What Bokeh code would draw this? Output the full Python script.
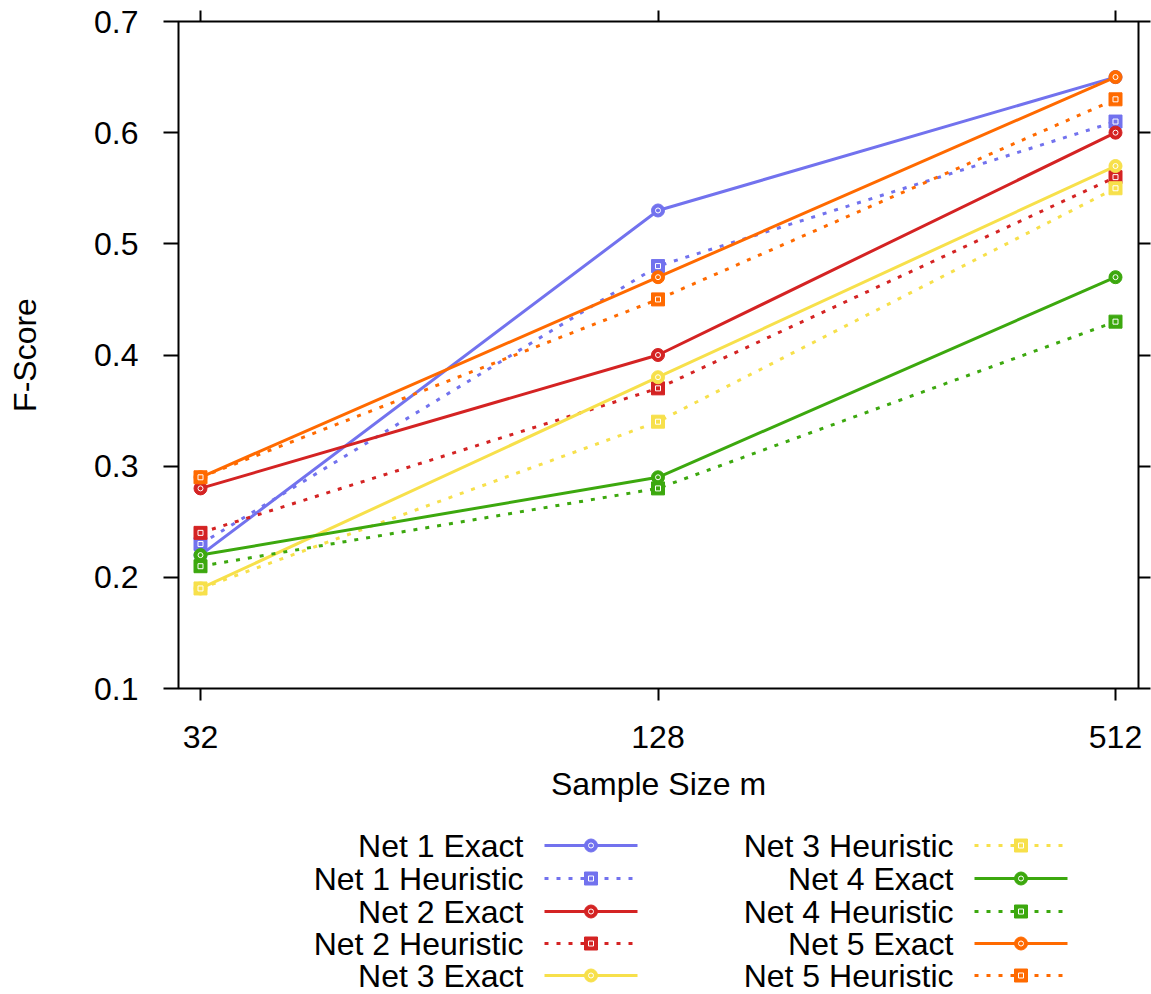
import numpy as np
from bokeh.plotting import figure
from bokeh.layouts import column
from bokeh.models import Range1d, FixedTicker, LinearAxis, ColumnDataSource
from bokeh.core.properties import value
from bokeh.embed import file_html
from bokeh.resources import INLINE

# ---------------- data ----------------
sample_sizes = [32, 128, 512]
series_names = ["Net 1 Exact", "Net 1 Heuristic", "Net 2 Exact", "Net 2 Heuristic",
                "Net 3 Exact", "Net 3 Heuristic", "Net 4 Exact", "Net 4 Heuristic",
                "Net 5 Exact", "Net 5 Heuristic"]
net1_exact = [0.22, 0.53, 0.65]
net1_heur = [0.23, 0.48, 0.61]
net2_exact = [0.28, 0.40, 0.60]
net2_heur = [0.24, 0.37, 0.56]
net3_exact = [0.19, 0.38, 0.57]
net3_heur = [0.19, 0.34, 0.55]
net4_exact = [0.22, 0.29, 0.47]
net4_heur = [0.21, 0.28, 0.43]
net5_exact = [0.29, 0.47, 0.65]
net5_heur = [0.29, 0.45, 0.63]
series_values = [net1_exact, net1_heur, net2_exact, net2_heur, net3_exact,
                 net3_heur, net4_exact, net4_heur, net5_exact, net5_heur]
y_ticks = [0.1, 0.2, 0.3, 0.4, 0.5, 0.6, 0.7]

net_colors = ["#7272ee", "#d42323", "#f7e04b", "#3ca80e", "#ff6a00"]
FONT = "Liberation Sans"
FS = "32px"

x_pos = np.log2(sample_sizes)

W, TOTAL_H = 1151, 994
L, R, T, B = 178, 13, 21, 128
H1 = T + 667 + B
H2 = TOTAL_H - H1
frame_w = W - L - R
unit = (1115 - 200) / (x_pos[-1] - x_pos[0])
x_lo = x_pos[0] - (200 - L) / unit
x_hi = x_pos[-1] + (L + frame_w - 1115) / unit

p = figure(width=W, height=H1, output_backend="svg", toolbar_location=None,
           x_range=Range1d(x_lo, x_hi), y_range=Range1d(0.1, 0.7),
           min_border_left=L, min_border_right=R, min_border_top=T, min_border_bottom=B,
           x_axis_location="below", y_axis_location="left")
p.xgrid.visible = False
p.ygrid.visible = False
p.outline_line_color = "black"
p.outline_line_width = 2
p.background_fill_color = "white"
p.border_fill_color = "white"

xt = FixedTicker(ticks=list(x_pos))
yt = FixedTicker(ticks=y_ticks)
xlabels = {float(v): str(s) for v, s in zip(x_pos, sample_sizes)}
ylabels = {t: f"{t:.1f}" for t in y_ticks}

def style_axis(ax, tick_out):
    ax.axis_line_color = None
    ax.major_tick_line_color = "black"
    ax.major_tick_line_width = 2
    ax.major_tick_out = tick_out
    ax.major_tick_in = 0
    ax.minor_tick_line_color = None
    ax.major_label_text_font = FONT
    ax.major_label_text_font_size = FS
    ax.major_label_text_color = "black"
    ax.axis_label_text_font = FONT
    ax.axis_label_text_font_size = FS
    ax.axis_label_text_font_style = "normal"
    ax.axis_label_text_color = "black"

xa = p.xaxis[0]
xa.ticker = xt
xa.major_label_overrides = xlabels
xa.axis_label = "Sample Size m"
style_axis(xa, 12)
xa.major_label_standoff = 25
xa.axis_label_standoff = 15

ya = p.yaxis[0]
ya.ticker = yt
ya.major_label_overrides = ylabels
ya.axis_label = "F-Score"
style_axis(ya, 15)
ya.major_label_standoff = 25
ya.axis_label_standoff = 48

ra = LinearAxis(ticker=yt)
style_axis(ra, 12)
ra.major_label_overrides = {t: "" for t in y_ticks}
ra.major_label_text_font_size = "1px"
ra.major_label_standoff = 0
p.add_layout(ra, "right")

ta = LinearAxis(ticker=xt)
style_axis(ta, 11)
ta.major_label_overrides = {float(v): "" for v in x_pos}
ta.major_label_text_font_size = "1px"
ta.major_label_standoff = 0
p.add_layout(ta, "above")

DOT = "4 8"
for i, (name, vals) in enumerate(zip(series_names, series_values)):
    col = net_colors[i // 2]
    heur = i % 2 == 1
    src = ColumnDataSource(dict(x=x_pos, y=vals))
    p.line("x", "y", source=src, line_color=col, line_width=3,
           line_dash=DOT if heur else "solid")
    if heur:
        p.scatter("x", "y", source=src, marker="square", size=13, fill_color=col,
                  line_color=col, line_width=1)
        p.scatter("x", "y", source=src, marker="square", size=5, fill_color=None,
                  line_color="white", line_width=1)
    else:
        p.scatter("x", "y", source=src, marker="circle", size=13, fill_color=col,
                  line_color=col, line_width=1)
        p.scatter("x", "y", source=src, marker="circle", size=5, fill_color=None,
                  line_color="white", line_width=1)

# ---------------- legend (separate panel, pixel coords) ----------------
lg = figure(width=W, height=H2, output_backend="svg", toolbar_location=None,
            x_range=Range1d(L, W - R), y_range=Range1d(TOTAL_H, H1),
            min_border_left=L, min_border_right=R, min_border_top=0, min_border_bottom=0)
lg.axis.visible = False
lg.xgrid.visible = False
lg.ygrid.visible = False
lg.outline_line_color = None
lg.background_fill_color = "white"
lg.border_fill_color = "white"

row_y = [845, 878, 911, 943, 975]
col_text_x = [523, 953]
col_line_x0 = [544, 974]
col_line_x1 = [637, 1067]
for i, name in enumerate(series_names):
    c = i // 5
    r = i % 5
    col = net_colors[i // 2]
    heur = i % 2 == 1
    y = row_y[r]
    lg.text(x=[col_text_x[c]], y=[y], text=[name], text_align="right",
            text_baseline="middle", text_font=value(FONT), text_font_size=FS,
            text_color="black")
    x0, x1 = col_line_x0[c], col_line_x1[c]
    xm = (x0 + x1) / 2
    lg.line(x=[x0, x1], y=[y, y], line_color=col, line_width=3,
            line_dash=DOT if heur else "solid")
    if heur:
        lg.scatter(x=[xm], y=[y], marker="square", size=13, fill_color=col, line_color=col)
        lg.scatter(x=[xm], y=[y], marker="square", size=5, fill_color=None, line_color="white")
    else:
        lg.scatter(x=[xm], y=[y], marker="circle", size=13, fill_color=col, line_color=col)
        lg.scatter(x=[xm], y=[y], marker="circle", size=5, fill_color=None, line_color="white")

layout = column(p, lg, spacing=0)
open("out.html", "w").write(file_html(layout, INLINE))
